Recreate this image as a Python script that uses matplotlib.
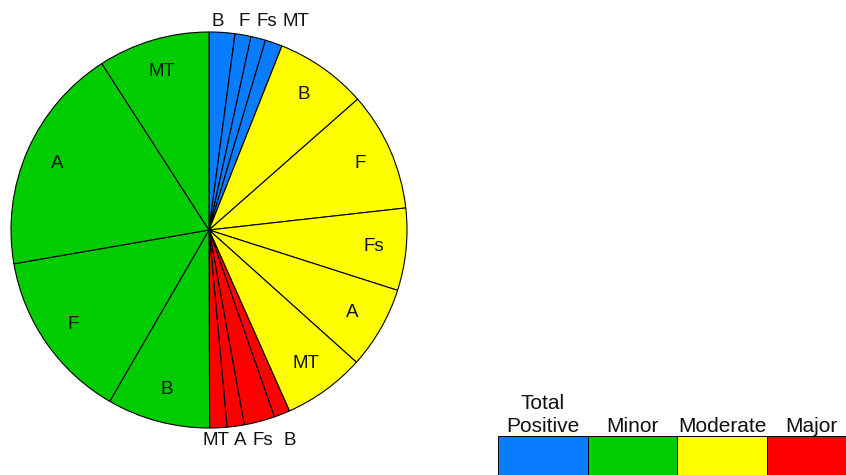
import matplotlib
matplotlib.use("Agg")
import matplotlib.pyplot as plt

plt.rcParams['font.family'] = ['Liberation Sans', 'DejaVu Sans']

# Share of positive results by severity and sample type (percent)
blue_labels = ["B", "F", "Fs", "MT"]
blue_vals = [2.1, 1.3, 1.2, 1.4]
yellow_labels = ["B", "F", "Fs", "A", "MT"]
yellow_vals = [7.5, 9.7, 6.7, 6.7, 6.7]
red_labels = ["B", "Fs", "A", "MT"]
red_vals = [1.3, 2.5, 1.4, 1.4]
green_labels = ["B", "F", "A", "MT"]
green_vals = [8.4, 13.9, 18.6, 9.1]

legend_names = ["Total\nPositive", "Minor", "Moderate", "Major"]

BLUE = "#0a7cff"
GREEN = "#00cc00"
YELLOW = "#ffff00"
RED = "#ff0000"

W, H = 846, 475
fig = plt.figure(figsize=(W / 100, H / 100), dpi=100)

# pie axes: centre at (209, 230) px, radius 198 px, limits +-1.2
R = 198
cx, cy = 209, 230
side = 2.4 * R
ax = fig.add_axes([(cx - side / 2) / W, (H - cy - side / 2) / H, side / W, side / H])

vals = blue_vals + yellow_vals + red_vals + green_vals
colors = ([BLUE] * len(blue_vals) + [YELLOW] * len(yellow_vals)
          + [RED] * len(red_vals) + [GREEN] * len(green_vals))
# small slices get their labels outside the pie
inner = [""] * len(blue_vals) + yellow_labels + [""] * len(red_vals) + green_labels

ax.pie(vals, colors=colors, labels=inner, labeldistance=0.835,
       startangle=90, counterclock=False, radius=1,
       wedgeprops=dict(edgecolor="black", linewidth=0.8),
       textprops=dict(fontsize=13.5, color="#111111", ha="center", va="center"))
ax.set_xlim(-1.2, 1.2)
ax.set_ylim(-1.2, 1.2)
ax.set_aspect("equal")
ax.axis("off")

for lab, x in zip(blue_labels, [0.043, 0.18, 0.29, 0.44]):
    ax.text(x, 1.055, lab, fontsize=13.5, ha="center", va="center", color="#111111")
for lab, x in zip(red_labels, [0.41, 0.27, 0.157, 0.035]):
    ax.text(x, -1.063, lab, fontsize=13.5, ha="center", va="center", color="#111111")

# colour key along the bottom edge
cell = 89.5
lx0, ltop, lbot = 498.3, 436, 482
lax = fig.add_axes([lx0 / W, (H - lbot) / H, 4 * cell / W, (lbot - ltop) / H])
lax.bar(range(len(legend_names)), [1] * len(legend_names), width=1,
        color=[BLUE, GREEN, YELLOW, RED], edgecolor="black", linewidth=0.7)
lax.set_xlim(-0.5, len(legend_names) - 0.5)
lax.set_ylim(0, 1)
lax.axis("off")
for i, name in enumerate(legend_names):
    lax.annotate(name, (i, 1), xytext=(0, 3), textcoords="offset points",
                 ha="center", va="baseline", fontsize=15, color="#111111",
                 linespacing=1.25, annotation_clip=False)

fig.savefig("out.png", dpi=100)
